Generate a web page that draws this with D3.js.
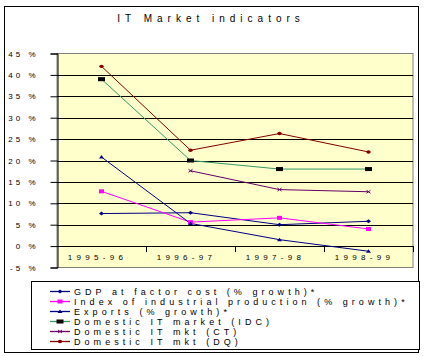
<!DOCTYPE html>
<html><head><meta charset="utf-8">
<script src="https://cdn.jsdelivr.net/npm/d3@7"></script>
<style>body{margin:0;background:#fff}svg{display:block;font-family:Arial,"Liberation Sans",sans-serif}</style>
</head><body><div id="chart"></div>
<script>
const categories = ["1995-96","1996-97","1997-98","1998-99"];
const gdp = [7.6, 7.8, 5.0, 5.8];
const iip = [12.8, 5.6, 6.6, 4.0];
const exportsG = [20.8, 5.3, 1.5, -1.2];
const idc = [39.0, 20.0, 18.0, 18.0];
const ct = [null, 17.6, 13.2, 12.7];
const dq = [42.0, 22.4, 26.3, 22.0];
const yTicks = [-5,0,5,10,15,20,25,30,35,40,45];
const seriesNames = ["GDP at factor cost (% growth)*","Index of industrial production (% growth)*","Exports (% growth)*","Domestic IT market (IDC)","Domestic IT mkt (CT)","Domestic IT mkt (DQ)"];

const series = [
  {name: seriesNames[0], values: gdp, line:"#000080", mark:"#000080", sym:"diamond"},
  {name: seriesNames[1], values: iip, line:"#ff00ff", mark:"#ff00ff", sym:"square"},
  {name: seriesNames[2], values: exportsG, line:"#000080", mark:"#000080", sym:"triangle"},
  {name: seriesNames[3], values: idc, line:"#339966", mark:"#000000", sym:"bigsquare"},
  {name: seriesNames[4], values: ct, line:"#660066", mark:"#660066", sym:"cross"},
  {name: seriesNames[5], values: dq, line:"#800000", mark:"#800000", sym:"circle"}
];

const W=426,H=356;
const svg=d3.select("#chart").append("svg").attr("width",W).attr("height",H);
svg.append("rect").attr("x",4.5).attr("y",6.5).attr("width",414).attr("height",346).attr("fill","#fff").attr("stroke","#000");

svg.append("text").attr("x",211).attr("y",22).attr("text-anchor","middle")
  .attr("font-size",10).attr("letter-spacing",5).text("IT  Market indicators");

const x=d3.scaleBand().domain(categories).range([57,413]);
const y=d3.scaleLinear().domain([-5,45]).range([267.5,53.5]);

svg.append("rect").attr("x",57).attr("y",53.5).attr("width",356).attr("height",214)
  .attr("fill","#ffffcc").attr("stroke","#808080");

// gridlines
svg.append("g").selectAll("line").data(yTicks.filter(t=>t>-5&&t<45)).join("line")
  .attr("x1",57).attr("x2",413).attr("y1",d=>Math.round(y(d))+0.5).attr("y2",d=>Math.round(y(d))+0.5)
  .attr("stroke","#000");

// y axis
const yAxis=d3.axisLeft(y).tickValues(yTicks).tickSize(7).tickFormat(d=>d+" %");
const ga=svg.append("g").attr("transform","translate(57.5,0)").call(yAxis);
ga.select(".domain").attr("stroke","#000");
ga.selectAll(".tick line").attr("stroke","#000");
ga.selectAll(".tick text").attr("font-size",8).attr("letter-spacing",3).attr("x",-19).attr("fill","#000").attr("font-family","Arial, Liberation Sans, sans-serif");

// x axis at 0
const xAxis=d3.axisBottom(x).tickSize(0).tickFormat(d=>d);
const gx=svg.append("g").attr("transform",`translate(0,${Math.round(y(0))+0.5})`).call(xAxis);
gx.select(".domain").remove();
gx.selectAll(".tick text").attr("font-size",8).attr("letter-spacing",4.3).attr("dy","0.95em").attr("dx",-4).attr("y",6).attr("fill","#000").attr("font-family","Arial, Liberation Sans, sans-serif");
svg.append("g").selectAll("line").data(categories.slice(1).concat(["end"])).join("line")
  .attr("x1",d=>Math.round(d==="end"?413:x(d))+0.5).attr("x2",d=>Math.round(d==="end"?413:x(d))+0.5)
  .attr("y1",y(0)).attr("y2",y(0)+6).attr("stroke","#000");

function drawSym(g, sym, color, cx, cy){
  if(sym==="diamond"){
    g.append("path").attr("d",`M${cx-2.5},${cy}L${cx},${cy-2}L${cx+2.5},${cy}L${cx},${cy+2}Z`).attr("fill",color);
  } else if(sym==="square"){
    g.append("rect").attr("x",cx-2.5).attr("y",cy-2).attr("width",5).attr("height",4).attr("fill",color);
  } else if(sym==="bigsquare"){
    g.append("rect").attr("x",cx-3.5).attr("y",cy-2).attr("width",7).attr("height",4).attr("fill",color);
  } else if(sym==="triangle"){
    g.append("path").attr("d",`M${cx-2.5},${cy+1.5}L${cx},${cy-2}L${cx+2.5},${cy+1.5}Z`).attr("fill",color);
  } else if(sym==="cross"){
    g.append("path").attr("d",`M${cx-2},${cy-1.5}L${cx+2},${cy+1.5}M${cx-2},${cy+1.5}L${cx+2},${cy-1.5}`).attr("stroke",color).attr("stroke-width",1);
  } else if(sym==="circle"){
    g.append("ellipse").attr("cx",cx).attr("cy",cy).attr("rx",2.2).attr("ry",1.7).attr("fill",color);
  }
}

const line=d3.line().defined(d=>d.v!=null).x(d=>x(d.c)+x.bandwidth()/2).y(d=>y(d.v));
const gl=svg.append("g");
series.forEach(s=>{
  const pts=categories.map((c,i)=>({c,v:s.values[i]}));
  gl.append("path").datum(pts).attr("d",line).attr("fill","none").attr("stroke",s.line).attr("stroke-width",1);
});
series.forEach(s=>{
  categories.forEach((c,i)=>{
    if(s.values[i]==null) return;
    drawSym(gl,s.sym,s.mark,x(c)+x.bandwidth()/2,y(s.values[i]));
  });
});

// legend
svg.append("rect").attr("x",31.5).attr("y",281.5).attr("width",388).attr("height",68).attr("fill","#fff").attr("stroke","#000");
const lg=svg.append("g");
series.forEach((s,i)=>{
  const ly=291+i*10;
  lg.append("line").attr("x1",50).attr("x2",70).attr("y1",ly+0.5).attr("y2",ly+0.5).attr("stroke",s.line).attr("stroke-width",1.3);
  drawSym(lg,s.sym,s.mark,60,ly+0.5);
  lg.append("text").attr("x",74).attr("y",ly+3.5).attr("font-size",9).attr("letter-spacing",4.05).text(s.name);
});
</script></body></html>
